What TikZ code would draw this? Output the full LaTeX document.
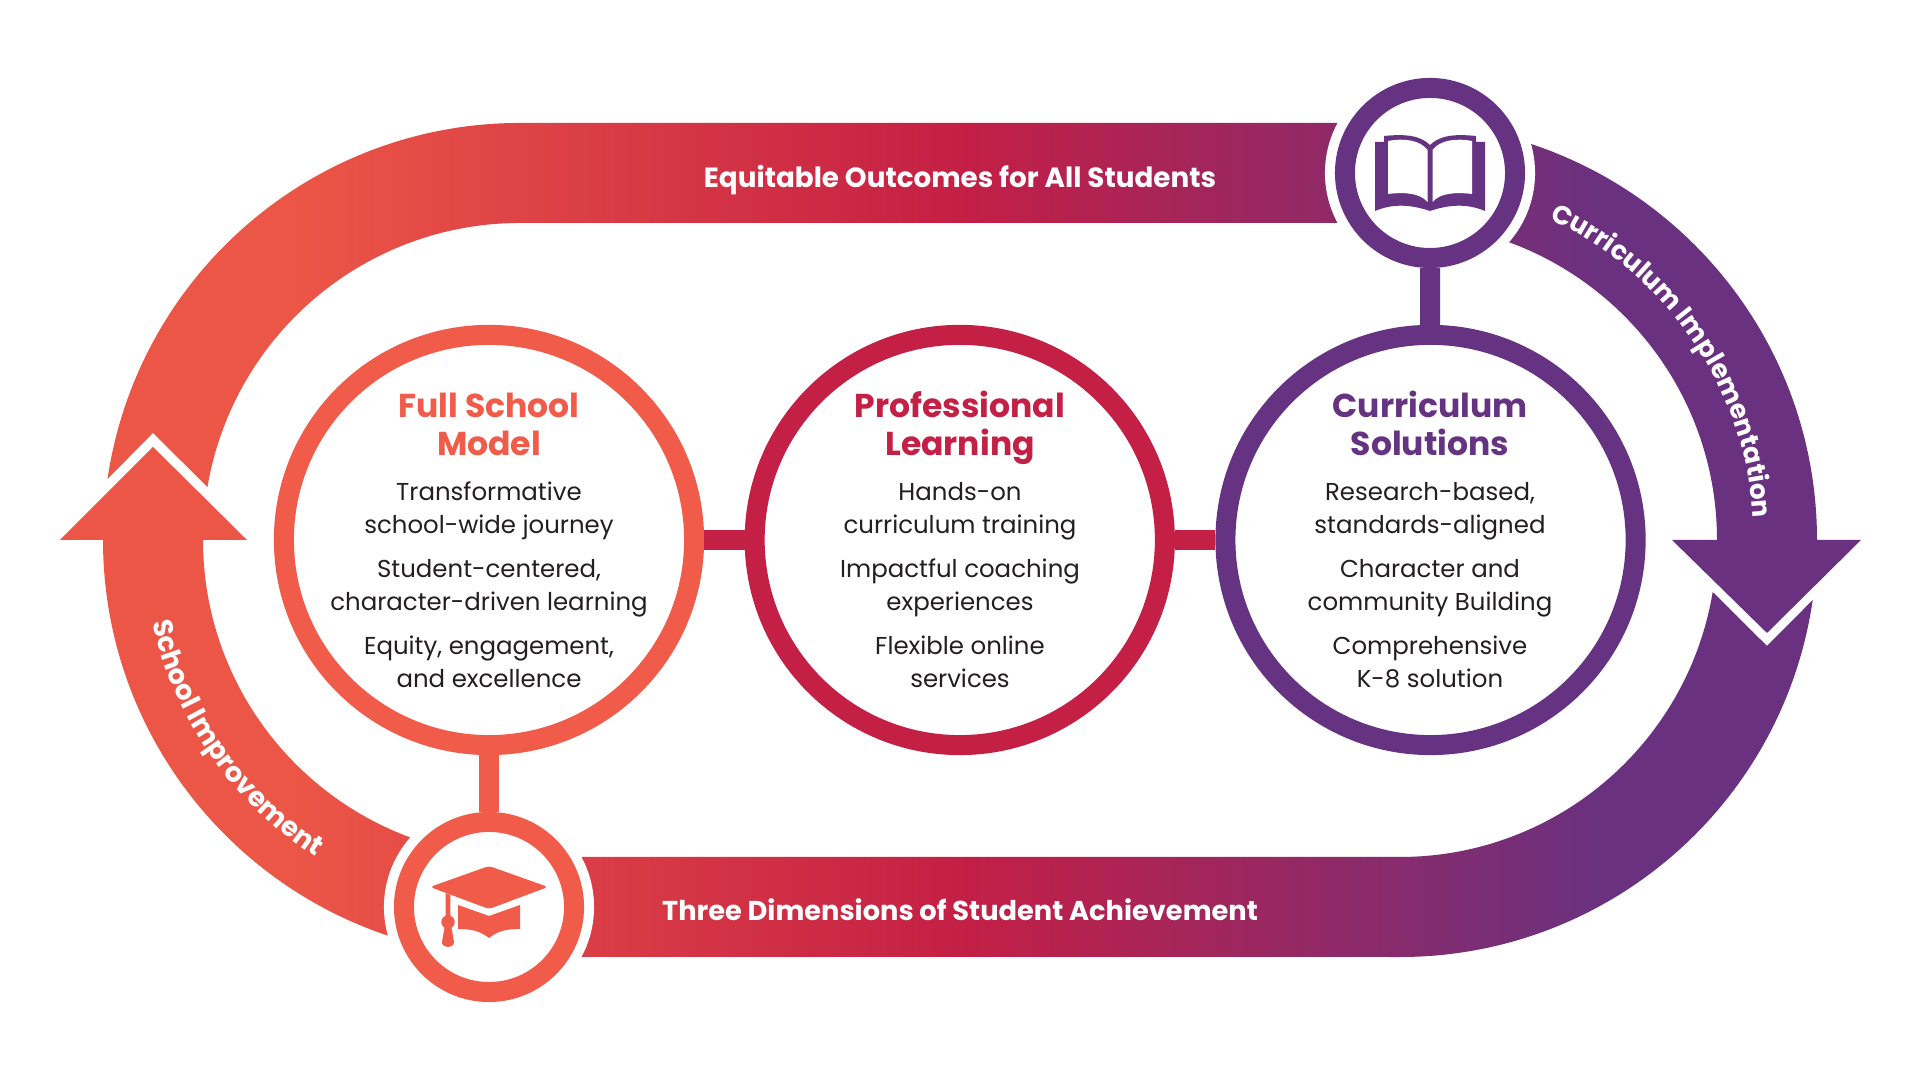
\documentclass[tikz,border=0pt]{standalone}
\usepackage{xcolor}
\usepackage{fontspec}
\setmainfont{Poppins}
\usetikzlibrary{decorations.text}

\definecolor{coral}{HTML}{F15B4A}
\definecolor{crimson}{HTML}{C41F45}
\definecolor{violet}{HTML}{663382}
\definecolor{inkc}{HTML}{231F20}
\definecolor{bandcoral}{HTML}{EC5646}
\definecolor{bandviolet}{HTML}{693180}

\pgfdeclarehorizontalshading{bandfade}{100bp}{
  color(0bp)=(bandcoral); color(31.4bp)=(bandcoral); color(50bp)=(crimson);
  color(68bp)=(bandviolet); color(100bp)=(bandviolet)}

\newcommand{\bandstyle}{\fontsize{7.9}{9}\bfseries\color{white}}
\newcommand{\curvestyle}{\fontsize{7.45}{9}\bfseries\color{white}}
\newcommand{\curvestyleleft}{\fontsize{7.75}{9}\bfseries\color{white}}

\begin{document}
\begin{tikzpicture}[x=0.01cm,y=0.01cm,node distance=4.705cm,
    ring/.style={circle,draw=#1,fill=white,line width=0.2cm,minimum size=4.1cm,inner sep=0pt},
    iconring/.style={circle,draw=#1,fill=white,line width=0.2cm,minimum size=1.7cm,inner sep=0pt},
    halo/.style={circle,fill=white,minimum size=2.1cm,inner sep=0pt},
    link/.style={draw=#1,line width=0.2cm},
    titletext/.style={align=center,anchor=base,font=\fontsize{9.4}{10.9}\selectfont\bfseries},
    bodytext/.style={align=center,text=inkc,font=\fontsize{6.95}{9.25}\selectfont},
    bandtext/.style={text=white,font=\bandstyle\selectfont,anchor=base}]

  \path[use as bounding box,fill=white] (0,0) rectangle (1920,1080);

  % ribbon, both halves in one path so that they share the fade
  \shade[shading=bandfade]
    (107.5,601) arc[start angle=171.59,end angle=90,radius=417] -- (1400,957)
    arc[start angle=90,end angle=0,radius=417] -- (1861,540) -- (1767,447) -- (1672,540) -- (1717,540)
    arc[start angle=0,end angle=90,radius=317] -- (520,857)
    arc[start angle=90,end angle=170.38,radius=317] -- (153,647) -- cycle
    (1812.7,480) arc[start angle=-8.27,end angle=-90,radius=417] -- (520,123)
    arc[start angle=270,end angle=180,radius=417] -- (60,540) -- (153,633) -- (247,540) -- (203,540)
    arc[start angle=180,end angle=270,radius=317] -- (1400,223)
    arc[start angle=-90,end angle=-9.44,radius=317] -- (1767,434) -- cycle;

  % three main circles
  \node[ring=coral] (fsm) at (489,540) {};
  \node[ring=crimson] (pl) [right of=fsm] {};
  \node[ring=violet] (cs) [right of=pl] {};

  % icon circles
  \node[halo] (bookhalo) at (1430,907) {};
  \node[halo] (caphalo) at (489,173) {};
  \node[iconring=violet] (book) at (bookhalo) {};
  \node[iconring=coral] (cap) at (caphalo) {};

  \draw[link=crimson] (fsm) -- (pl);
  \draw[link=crimson] (pl) -- (cs);
  \draw[link=violet] (cs) -- (book);
  \draw[link=coral] (fsm) -- (cap);

  % book icon
  \begin{scope}[shift={(book)}]
    \fill[violet] (-55,31) -- (-46,31) -- (-46,37) .. controls (-26,39) and (-10,38) .. (0,28)
      .. controls (10,38) and (26,39) .. (46,37) -- (46,31) -- (55,31) -- (55,-38)
      .. controls (36,-30) and (18,-32) .. (0,-38) .. controls (-18,-32) and (-36,-30) .. (-55,-38) -- cycle;
    \fill[white] (-42,32) .. controls (-26,35) and (-10,33) .. (-2.5,23) -- (-2.5,-29)
      .. controls (-10,-20) and (-26,-19) .. (-42,-21) -- cycle;
    \fill[white] (42,32) .. controls (26,35) and (10,33) .. (2.5,23) -- (2.5,-29)
      .. controls (10,-20) and (26,-19) .. (42,-21) -- cycle;
  \end{scope}

  % cap icon
  \begin{scope}[shift={(cap)}]
    \fill[coral,rounded corners=1pt] (-59,20) -- (0,41) -- (59,20) -- (0,-2) -- cycle;
    \fill[coral] (-31,2) -- (0,-9) -- (31,2) -- (31,-22) .. controls (15,-22) and (8,-25) .. (0,-31)
      .. controls (-8,-25) and (-15,-22) .. (-31,-22) -- cycle;
    \fill[coral] (-43.3,14) -- (-38.7,12) -- (-38.7,-15) -- (-43.3,-15) -- cycle;
    \fill[coral] (-41,-15) circle[radius=6.7];
    \fill[coral] (-44,-18) -- (-47,-35) .. controls (-47.5,-41.5) and (-34.5,-41.5) .. (-35,-35) -- (-38,-18) -- cycle;
  \end{scope}

  % texts of the circles
  \node[titletext,text=coral] (fsmtitle) at (489,624) {Full School\\Model};
  \node[titletext,text=crimson] (pltitle) at (960,624) {Professional\\Learning};
  \node[titletext,text=violet] (cstitle) at (1430,624) {Curriculum\\Solutions};

  \node[bodytext] (fsmbody) at (489,495) {Transformative\\school-wide journey\\[3.4pt]
    Student-centered,\\character-driven learning\\[3.4pt]Equity, engagement,\\and excellence};
  \node[bodytext] (plbody) at (960,495) {Hands-on\\curriculum training\\[3.4pt]
    Impactful coaching\\experiences\\[3.4pt]Flexible online\\services};
  \node[bodytext] (csbody) at (1430,495) {Research-based,\\standards-aligned\\[3.4pt]
    Character and\\community Building\\[3.4pt]Comprehensive\\K-8 solution};

  % texts of the ribbon
  \node[bandtext] (toplabel) at (960,892) {Equitable Outcomes for All Students};
  \node[bandtext,font=\fontsize{7.75}{9}\bfseries\color{white}\selectfont] (bottomlabel) at (960,159) {Three Dimensions of Student Achievement};
  \path[decorate,decoration={text along path,text align=left,
      text={|\curvestyle|Curriculum Implementation}}]
    (1400,540) ++(65:354) arc[start angle=65,end angle=-15,radius=354];
  \path[decorate,decoration={text along path,text align=left,
      text={|\curvestyleleft|School Improvement}}]
    (520,540) ++(192.6:377) arc[start angle=192.6,end angle=255,radius=377];
\end{tikzpicture}
\end{document}
